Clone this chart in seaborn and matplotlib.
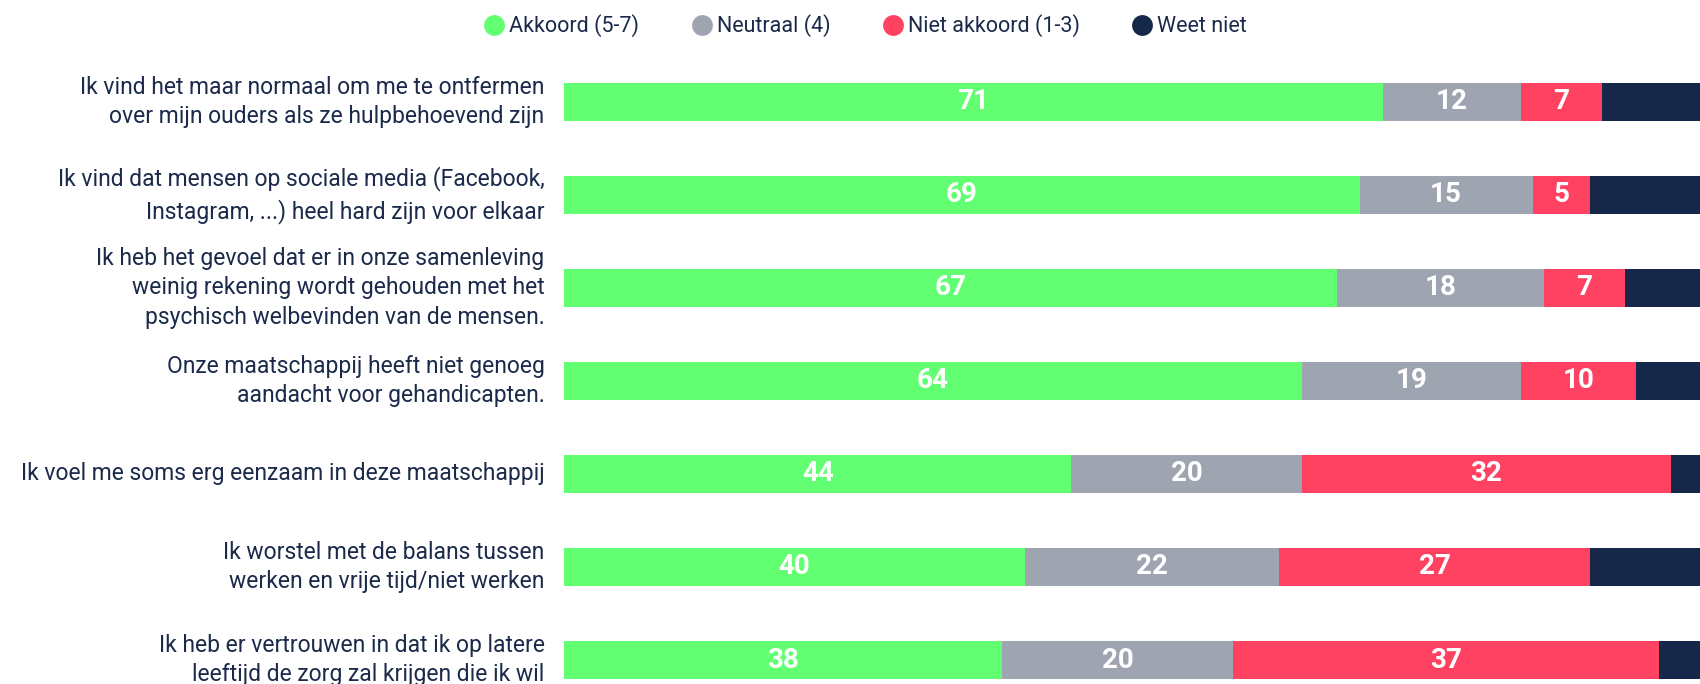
import pandas as pd
import numpy as np
import matplotlib.pyplot as plt
import seaborn as sns
from matplotlib.lines import Line2D

statements = [
    "Ik vind het maar normaal om me te ontfermen\nover mijn ouders als ze hulpbehoevend zijn",
    "Ik vind dat mensen op sociale media (Facebook,\nInstagram, ...) heel hard zijn voor elkaar",
    "Ik heb het gevoel dat er in onze samenleving\nweinig rekening wordt gehouden met het\npsychisch welbevinden van de mensen.",
    "Onze maatschappij heeft niet genoeg\naandacht voor gehandicapten.",
    "Ik voel me soms erg eenzaam in deze maatschappij",
    "Ik worstel met de balans tussen\nwerken en vrije tijd/niet werken",
    "Ik heb er vertrouwen in dat ik op latere\nleeftijd de zorg zal krijgen die ik wil",
]
akkoord = [71, 69, 67, 64, 44, 40, 38]
neutraal = [12, 15, 18, 19, 20, 22, 20]
niet_akkoord = [7, 5, 7, 10, 32, 27, 37]
weet_niet = [10, 11, 8, 7, 4, 11, 5]

series = ["Akkoord (5-7)", "Neutraal (4)", "Niet akkoord (1-3)", "Weet niet"]
colors = ["#61FF71", "#9EA4B0", "#FF4262", "#16284A"]
text_color = "#1B2A4A"

df = pd.DataFrame({
    "statement": statements,
    series[0]: akkoord,
    series[1]: neutraal,
    series[2]: niet_akkoord,
    series[3]: weet_niet,
})
cum = df[series].cumsum(axis=1)

sns.set_theme(style="white")
plt.rcParams['font.family'] = ['Roboto', 'DejaVu Sans']

fig = plt.figure(figsize=(17, 6.84), dpi=100)
ax = fig.add_axes([564 / 1700, -0.0329, 1153 / 1700, 0.9518])

# draw cumulative totals back to front so the segments stack
for s, c in reversed(list(zip(series, colors))):
    sns.barplot(x=cum[s], y=df["statement"], orient="h", color=c,
                width=0.41, saturation=1, linewidth=0, ax=ax)

for i in range(len(df)):
    for s in series[:3]:
        val = df.loc[i, s]
        ax.text(cum.loc[i, s] - val / 2, i, f"{val}", ha="center", va="center",
                color="white", fontsize=20, fontweight="bold")

ax.set_xlim(0, 100)
ax.set_ylim(len(df) - 0.5, -0.5)
ax.set_xlabel("")
ax.set_ylabel("")
ax.set_xticks([])
ax.tick_params(axis="y", length=0, pad=14, labelsize=16.5, labelcolor=text_color)
for lab in ax.get_yticklabels():
    lab.set_linespacing(1.38)
    lab.set_va("center")
sns.despine(ax=ax, left=True, bottom=True)

handles = [Line2D([0], [0], marker="o", linestyle="", markersize=15,
                  markerfacecolor=c, markeredgewidth=0) for c in colors]
fig.legend(handles, series, loc="center", bbox_to_anchor=(0.509, 1 - 26 / 684),
           ncol=4, frameon=False, fontsize=15.5, labelcolor=text_color,
           handletextpad=0.2, columnspacing=2.4, handlelength=1.0)

fig.savefig("out.png", dpi=100)
